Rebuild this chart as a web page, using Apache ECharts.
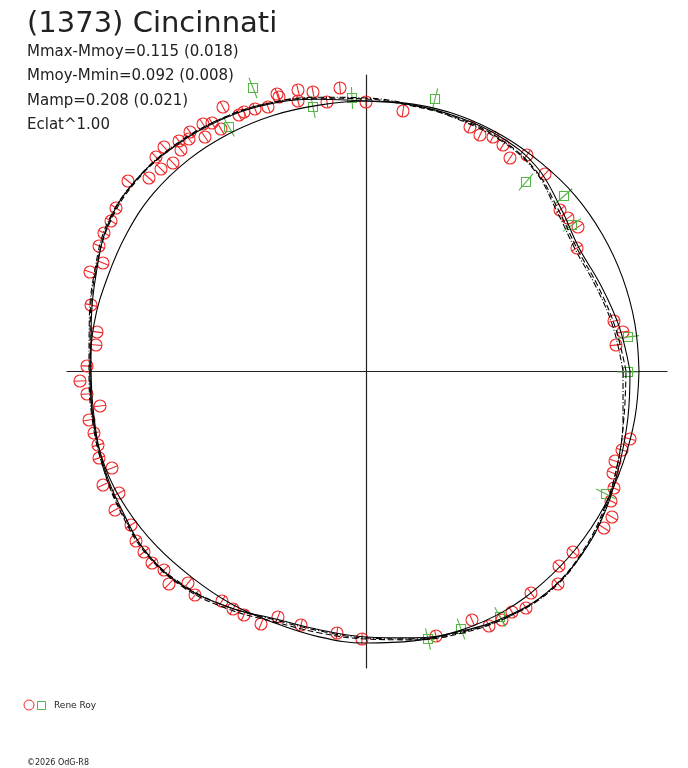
<html>

<head>
  <title>(1373) Cincinnati</title>
  <meta charset="utf-8">
  <script src="https://cdn.jsdelivr.net/npm/echarts@6.0.0/dist/echarts.min.js"></script>
  <style>
    html,
    body {
      width: 100%;
      height: 100%;
      margin: 0;
      background: #fff;
    }

    #chart-area {
      width: 688px;
      height: 768px;
    }
  </style>
</head>

<body>
  <div id="chart-area"></div>
  <script>
    // curve radii, one value every 10 degrees starting east, counter-clockwise
    var curveAngles = [0, 10, 20, 30, 40, 50, 60, 70, 80, 90, 100, 110, 120, 130, 140, 150, 160, 170,
      180, 190, 200, 210, 220, 230, 240, 250, 260, 270, 280, 290, 300, 310, 320, 330, 340, 350];
    var fitSolid = [264, 257, 250, 246, 254, 266, 270, 270, 270, 270, 276, 284, 290, 295, 299, 297, 287, 279,
      275, 276, 279, 281, 285, 282, 273, 264, 263, 266, 271, 277, 283, 286, 283, 277, 270, 266];
    var fitDashed = [260, 253, 247, 244, 251, 263, 268, 269, 269, 272, 277, 285, 291, 295, 298, 296, 288, 280,
      276, 277, 280, 283, 286, 283, 275, 267, 266, 268, 273, 279, 284, 286, 282, 275, 268, 262];
    var fitDashDot = [257, 251, 245, 242, 249, 262, 267, 268, 270, 273, 278, 285, 291, 296, 299, 298, 289, 281,
      277, 278, 280, 282, 285, 281, 273, 265, 264, 267, 272, 278, 284, 287, 283, 276, 268, 261];
    var modelCurve = [273, 273, 273, 273, 273, 272, 272, 272, 271, 270, 270, 272, 274, 276, 277, 276, 275, 276,
      276, 277, 278, 276, 273, 270, 269, 268, 270, 272, 274, 276, 277, 276, 275, 274, 273, 273];

    // observations (x, y) around the centre
    var reneCircles = [
      [-89, 277], [-87, 274], [-68, 281], [-68, 270], [-53, 279], [-39, 269], [-26, 283], [0, 269],
      [-143, 264], [-111, 262], [-98, 264], [-127, 256], [-122, 259], [-163, 247], [-154, 248], [-145, 242],
      [-176, 239], [-161, 234], [-187, 230], [-177, 232], [-185, 221], [-202, 224], [-210, 214], [-193, 208],
      [-205, 202], [-217, 193], [-238, 190], [-250, 163], [-255, 150], [-262, 138], [-267, 125], [-263, 108],
      [-276, 99], [-275, 66], [-269, 39], [-270, 26], [-279, 5], [-286, -10], [-279, -23], [-266, -35],
      [-277, -49], [-272, -62], [-268, -74], [-267, -87], [-254, -97], [-263, -114], [-247, -122], [-251, -139],
      [-235, -154], [-230, -170], [-222, -181], [-214, -192], [-202, -199], [-197, -213], [-178, -212], [-171, -224],
      [-144, -230], [-133, -238], [-122, -244], [-105, -253], [-88, -246], [-65, -254], [-29, -262], [-4, -268],
      [70, -265], [106, -249], [123, -255], [136, -249], [146, -241], [160, -237], [165, -222], [192, -213],
      [193, -195], [207, -181], [238, -157], [246, -146], [245, -130], [248, -117], [247, -102], [249, -90],
      [256, -79], [264, -68], [250, 26], [257, 39], [248, 50], [211, 123], [212, 144], [202, 153],
      [194, 161], [179, 197], [161, 216], [144, 213], [137, 226], [127, 234], [114, 236], [104, 244], [37, 260]
    ];
    var reneSquares = [
      [-113, 283], [-137, 244], [-53, 264], [-14, 273], [69, 272], [160, 189], [198, 175], [206, 146],
      [262, 34], [262, -1], [240, -123], [134, -246], [95, -258], [62, -268]
    ];

    var titleText = '(1373) Cincinnati';
    var infoLines = ['Mmax-Mmoy=0.115 (0.018)', 'Mmoy-Mmin=0.092 (0.008)', 'Mamp=0.208 (0.021)', 'Eclat^1.00'];
    var observer = 'Rene Roy';
    var credit = '\u00a92026 OdG-R8';

    var RED = '#f02828';
    var GREEN = '#55b545';
    var INK = '#222';

    function toXY(radii) {
      var pts = [];
      for (var i = 0; i <= radii.length; i++) {
        var k = i % radii.length;
        var a = curveAngles[k] * Math.PI / 180;
        pts.push([radii[k] * Math.cos(a), radii[k] * Math.sin(a)]);
      }
      return pts;
    }

    function curve(radii, type) {
      return {
        type: 'line',
        data: toXY(radii),
        smooth: 0.4,
        showSymbol: false,
        symbol: 'none',
        silent: true,
        lineStyle: { color: '#000', width: 1.1, type: type }
      };
    }

    function radialAngle(p, api) {
      var o = api.coord([0, 0]);
      return Math.atan2(p[1] - o[1], p[0] - o[0]);
    }

    function drawCircle(params, api) {
      var p = api.coord([api.value(0), api.value(1)]);
      var a = radialAngle(p, api);
      var r = 6;
      return {
        type: 'group',
        children: [{
          type: 'circle',
          shape: { cx: p[0], cy: p[1], r: r },
          style: { fill: 'none', stroke: RED, lineWidth: 1.1 }
        }, {
          type: 'line',
          shape: {
            x1: p[0] - r * Math.cos(a), y1: p[1] - r * Math.sin(a),
            x2: p[0] + r * Math.cos(a), y2: p[1] + r * Math.sin(a)
          },
          style: { stroke: RED, lineWidth: 1.1 }
        }]
      };
    }

    function drawSquare(params, api) {
      var p = api.coord([api.value(0), api.value(1)]);
      var a = radialAngle(p, api);
      var h = 4.5, w = 11;
      return {
        type: 'group',
        children: [{
          type: 'line',
          shape: {
            x1: p[0] - w * Math.cos(a), y1: p[1] - w * Math.sin(a),
            x2: p[0] + w * Math.cos(a), y2: p[1] + w * Math.sin(a)
          },
          style: { stroke: GREEN, lineWidth: 1.1 }
        }, {
          type: 'rect',
          shape: { x: p[0] - h, y: p[1] - h, width: 2 * h, height: 2 * h },
          style: { fill: 'none', stroke: GREEN, lineWidth: 1.1 }
        }]
      };
    }

    var myChart = echarts.init(document.getElementById('chart-area'));

    var texts = [{
      type: 'text', x: 27, y: 24,
      style: { text: titleText, font: '29px "DejaVu Sans"', fill: INK, verticalAlign: 'middle' }
    }];
    for (var i = 0; i < infoLines.length; i++) {
      texts.push({
        type: 'text', x: 27, y: 52 + i * 24.5,
        style: { text: infoLines[i], font: '15px "DejaVu Sans"', fill: INK, verticalAlign: 'middle' }
      });
    }
    texts.push({
      type: 'circle', shape: { cx: 29, cy: 705, r: 5 },
      style: { fill: 'none', stroke: RED, lineWidth: 1 }
    });
    texts.push({
      type: 'rect', shape: { x: 37.5, y: 701.5, width: 8, height: 8 },
      style: { fill: 'none', stroke: GREEN, lineWidth: 1 }
    });
    texts.push({
      type: 'text', x: 54, y: 706,
      style: { text: observer, font: '9px "DejaVu Sans"', fill: INK, verticalAlign: 'middle' }
    });
    texts.push({
      type: 'text', x: 27, y: 763,
      style: { text: credit, font: '8px "DejaVu Sans"', fill: INK, verticalAlign: 'middle' }
    });

    var option = {
      animation: false,
      backgroundColor: '#fff',
      grid: { left: 67, top: 75, width: 600, height: 593 },
      xAxis: {
        type: 'value', min: -299, max: 301,
        axisLine: { onZero: true, lineStyle: { color: INK, width: 1.2 } },
        axisTick: { show: false }, axisLabel: { show: false }, splitLine: { show: false }
      },
      yAxis: {
        type: 'value', min: -297, max: 296,
        axisLine: { onZero: true, lineStyle: { color: INK, width: 1.2 } },
        axisTick: { show: false }, axisLabel: { show: false }, splitLine: { show: false }
      },
      graphic: texts,
      series: [
        curve(modelCurve, 'solid'),
        curve(fitSolid, 'solid'),
        curve(fitDashed, [6, 3]),
        curve(fitDashDot, [6, 2, 1, 2]),
        {
          type: 'custom',
          renderItem: drawCircle,
          data: reneCircles,
          clip: false,
          silent: true
        },
        {
          type: 'custom',
          renderItem: drawSquare,
          data: reneSquares,
          clip: false,
          silent: true
        }
      ]
    };
    myChart.setOption(option);
  </script>
</body>

</html>
